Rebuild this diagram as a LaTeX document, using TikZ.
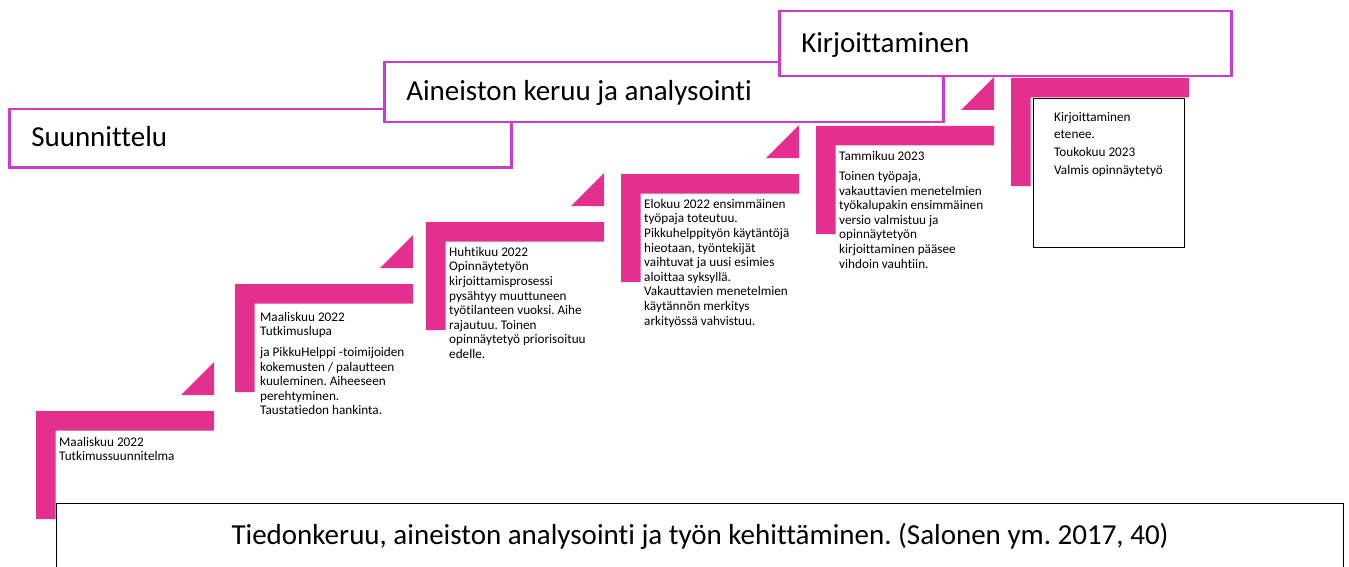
\documentclass[tikz,border=0pt]{standalone}
\usepackage{fontspec}
\setmainfont{Carlito}[Ligatures=NoCommon]
\usetikzlibrary{positioning}
\definecolor{stepPink}{RGB}{227,48,143}
\definecolor{phaseLine}{RGB}{204,60,204}
\frenchspacing

\begin{document}
\begin{tikzpicture}[x=1pt,y=-1pt,
  phase/.style={draw=phaseLine, line width=2.5pt, fill=white, anchor=north west,
    inner xsep=22pt, inner ysep=0pt, align=flush left, text height=21pt, text depth=4pt,
    font=\fontsize{29}{34}\selectfont},
  stepbar/.style={fill=stepPink},
  stepnote/.style={anchor=north west, inner sep=0pt, align=left,
    font=\fontsize{13.2}{14.6}\selectfont}]

  \useasboundingbox (0,0) rectangle (1349,567);

  % pink stairs
  \foreach \x/\y [count=\i] in {36/411, 235/284, 426/222, 621/174, 816/126, 1011/78} {
    \coordinate (s\i) at (\x,\y);
    \fill[stepbar] (s\i) rectangle ++(178,19.5) (s\i) rectangle ++(19.5,108);
  }
  \foreach \i in {1,...,5} {
    \fill[stepbar] ([shift={(145,-16)}]s\i) -- ++(33,0) -- ++(0,-33) -- cycle;
  }

  % phases
  \node[phase, text width=458, minimum height=58] (plan) at (8,108) {Suunnittelu};
  \node[phase, text width=515, minimum height=60] (data) at (383,61) {Aineiston keruu ja analysointi};
  \node[phase, text width=408, minimum height=65] (write) at (778,10) {Kirjoittaminen};

  % notes
  \node[stepnote] (t1) at (59,437) {Maaliskuu 2022\\ Tutkimussuunnitelma};
  \node[stepnote] (t2) at (260,312) {Maaliskuu 2022\\ Tutkimuslupa\\[6pt]
    ja PikkuHelppi -toimijoiden\\ kokemusten / palautteen\\ kuuleminen. Aiheeseen\\
    perehtyminen.\\ Taustatiedon hankinta.};
  \node[stepnote] (t3) at (449,247) {Huhtikuu 2022\\ Opinnäytetyön\\ kirjoittamisprosessi\\
    pysähtyy muuttuneen\\ työtilanteen vuoksi. Aihe\\ rajautuu. Toinen\\
    opinnäytetyö priorisoituu\\ edelle.};
  \node[stepnote] (t4) at (644,199) {Elokuu 2022 ensimmäinen\\ työpaja toteutuu.\\
    Pikkuhelppityön käytäntöjä\\ hieotaan, työntekijät\\ vaihtuvat ja uusi esimies\\
    aloittaa syksyllä.\\ Vakauttavien menetelmien\\ käytännön merkitys\\
    arkityössä vahvistuu.};
  \node[stepnote] (t5) at (839,151) {Tammikuu 2023\\[5.5pt] Toinen työpaja,\\
    vakauttavien menetelmien\\ työkalupakin ensimmäinen\\ versio valmistuu ja\\
    opinnäytetyön\\ kirjoittaminen pääsee\\ vihdoin vauhtiin.};

  \node[draw, line width=1pt, fill=white, anchor=north west, inner sep=0pt,
    minimum width=151, minimum height=149] (final) at (1033,98) {};
  \node[stepnote, font=\fontsize{13.2}{17.7}\selectfont] (t6)
    at ([shift={(21,14)}]final.north west) {Kirjoittaminen\\ etenee.\\ Toukokuu 2023\\
    Valmis opinnäytetyö};

  \node[draw, line width=1.2pt, anchor=north west, inner sep=0pt,
    minimum width=1287, minimum height=66, font=\fontsize{29}{34}\selectfont] (source)
    at (56,503) {Tiedonkeruu, aineiston analysointi ja työn kehittäminen. (Salonen ym. 2017, 40)};
\end{tikzpicture}
\end{document}
